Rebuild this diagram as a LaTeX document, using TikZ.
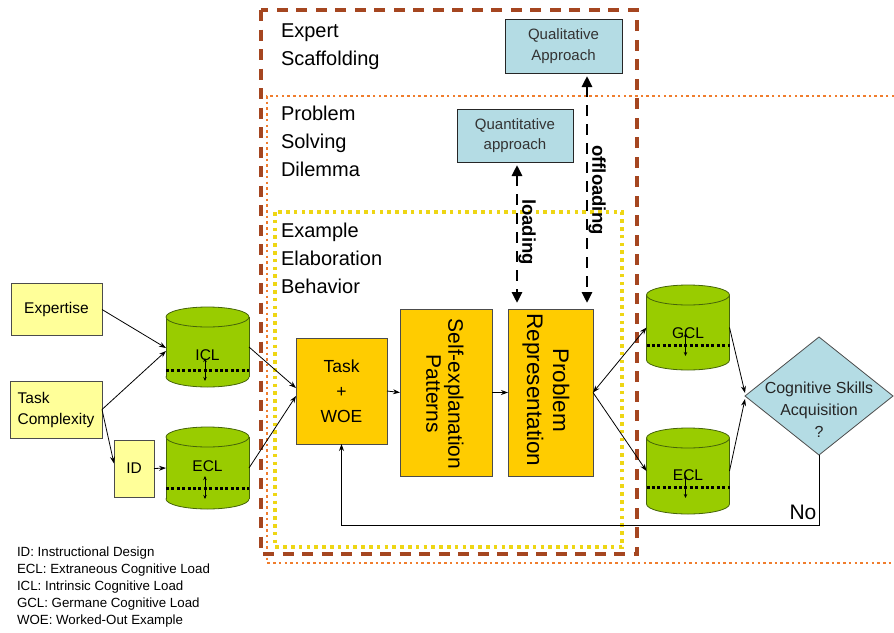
\documentclass[tikz,border=0pt]{standalone}
\usepackage{fontspec}
\setmainfont{Liberation Sans}
\usetikzlibrary{arrows.meta,shapes.geometric}
\definecolor{ylw}{RGB}{255,255,153}
\definecolor{gold}{RGB}{255,204,0}
\definecolor{grn}{RGB}{153,204,0}
\definecolor{grnd}{RGB}{70,100,10}
\definecolor{lblue}{RGB}{180,220,228}
\definecolor{brownf}{RGB}{165,70,32}
\definecolor{orangef}{RGB}{240,125,45}
\definecolor{yellowf}{RGB}{238,214,20}
\newcommand\fs[2]{\fontsize{#1}{#2}\selectfont}
\newcommand\mycyl[7]{%
  \pgfmathsetmacro\cylL{#2-41.5}%
  \pgfmathsetmacro\cylR{#2+41.5}%
  \pgfmathsetmacro\cylT{#3+10}%
  \pgfmathsetmacro\cylB{#4-10}%
  \pgfmathsetmacro\cylM{(#3+#4)/2}%
  \pgfmathsetmacro\cylH{#4-#3}%
  \pgfmathsetmacro\arT{#7-12}%
  \pgfmathsetmacro\arB{#7+11}%
  \pgfmathsetmacro\arX{#2-2.5}%
  \filldraw[cylfill] (#2,\cylB) ellipse [x radius=41.5, y radius=10];
  \fill[grn] (\cylL,\cylT) rectangle (\cylR,\cylB);
  \draw[cyledge] (\cylL,\cylT) -- (\cylL,\cylB) (\cylR,\cylT) -- (\cylR,\cylB);
  \filldraw[cylfill] (#2,\cylT) ellipse [x radius=41.5, y radius=10];
  \node[cyllabel] at (#2,#6) {#5};
  \draw[cyldot] (\cylL,#7) -- (\cylR,#7);
  \draw[cylarr] (\arX,\arT) -- (\arX,\arB);
  \node[minimum width=83pt, minimum height=\cylH pt] (#1) at (#2,\cylM) {};
}
\begin{document}
\begin{tikzpicture}[x=1pt,y=-1pt,
  every node/.style={inner sep=0pt, outer sep=0pt},
  ybox/.style={draw=black!70, line width=0.8pt, fill=ylw},
  gbox/.style={draw=black!70, line width=0.8pt, fill=gold},
  bbox/.style={draw=black!85, line width=0.9pt, fill=lblue, text=black!80},
  cylfill/.style={fill=grn, draw=grnd, line width=0.8pt},
  cyledge/.style={draw=grnd, line width=0.8pt},
  cyllabel/.style={font=\fs{15.5}{18}},
  cyldot/.style={line width=3pt, dash pattern=on 3pt off 2.4pt},
  cylarr/.style={line width=0.7pt, {Stealth[length=4pt,width=3.5pt]}-{Stealth[length=4pt,width=3.5pt]}},
  conn/.style={line width=0.8pt, -{Stealth[length=7pt,width=5pt]}},
  bconn/.style={line width=0.8pt, {Stealth[length=7pt,width=5pt]}-{Stealth[length=7pt,width=5pt]}},
  load/.style={line width=2.8pt, dash pattern=on 11pt off 8pt, {Triangle[length=11pt,width=10pt]}-{Triangle[length=11pt,width=10pt]}},
  title/.style={align=left, anchor=west, font=\fs{20}{28}},
  framebrown/.style={draw=brownf, line width=3.2pt, dash pattern=on 11pt off 8.5pt},
  frameorange/.style={draw=orangef, line width=2.5pt, dash pattern=on 2.5pt off 3.2pt},
  frameyellow/.style={draw=yellowf, line width=3.6pt, dash pattern=on 3.6pt off 4.2pt}
]
\useasboundingbox (0,0) rectangle (894,632);

% frames
\draw[frameorange] (894,96) -- (267,96) -- (267,563) -- (894,563);
\draw[framebrown] (261,10) rectangle (637,554);
\draw[frameyellow] (275,212) rectangle (622,547);

% titles
\node[title] (tes) at (281,46.5) {Expert\\Scaffolding};
\node[title] (tps) at (281,141) {Problem\\Solving\\Dilemma};
\node[title] (tee) at (281,258.5) {Example\\Elaboration\\Behavior};

% blue boxes
\node[bbox, minimum width=117pt, minimum height=54pt, align=center, font=\fs{15}{21}] (qual) at (563.5,46) {Qualitative\\Approach};
\node[bbox, minimum width=116pt, minimum height=53pt, align=center, font=\fs{15}{20}] (quant) at (515,135.5) {Quantitative\\approach};

% left boxes
\node[ybox, minimum width=91pt, minimum height=52pt, font=\fs{15.5}{19}] (expertise) at (56.5,309.5) {Expertise};
\node[ybox, minimum width=92pt, minimum height=57pt, align=left, font=\fs{15.5}{21}] (taskc) at (56,409.5) {Task\\Complexity};
\node[ybox, minimum width=40pt, minimum height=57pt, font=\fs{15.5}{19}] (id) at (134,468.5) {ID};

% cylinders
\mycyl{icl}{207.5}{307}{387}{ICL}{355}{370}
\mycyl{ecl}{207.5}{427}{509}{ECL}{466}{488}
\mycyl{gcl}{688}{285}{370}{GCL}{333}{345}
\mycyl{eclb}{688}{428}{514}{ECL}{475}{487}

% central boxes
\node[gbox, minimum width=91pt, minimum height=106pt, align=center, font=\fs{17.5}{25}] (task) at (341.5,391) {Task\\+\\WOE};
\node[gbox, minimum width=92pt, minimum height=167pt] (selfexp) at (446,392.5) {};
\node[rotate=-90, align=center, font=\fs{21}{22}] (selftxt) at (445,394) {Self-explanation\\Patterns};
\node[gbox, minimum width=85pt, minimum height=167pt] (prob) at (550.5,392.5) {};
\node[rotate=-90, align=center, font=\fs{22.5}{26}] (probtxt) at (546,390) {Problem\\Representation};

% decision
\node[diamond, draw=black!70, line width=0.8pt, fill=lblue, minimum width=148pt, minimum height=118pt] (dia) at (819,396) {};
\node[align=center, font=\fs{16}{22}, text=black!85] (diatxt) at (819,410) {Cognitive Skills\\Acquisition\\?};

% legend
\node[anchor=north west, align=left, font=\fs{13.3}{17}] (legend) at (17,547) {ID: Instructional Design\\ECL: Extraneous Cognitive Load\\ICL: Intrinsic Cognitive Load\\GCL: Germane Cognitive Load\\WOE: Worked-Out Example};

% connectors
\draw[conn] (expertise.east) -- ([yshift=-1pt]icl.west);
\draw[conn] (taskc.east) -- ([yshift=-4pt]icl.west);
\draw[conn] (taskc.east) -- ([yshift=5pt]id.west);
\draw[conn] (id.east) -- (ecl.west);
\draw[conn] (icl.east) -- ([yshift=3pt]task.west);
\draw[conn] (ecl.east) -- ([yshift=-5pt]task.west);
\draw[conn] (task.east) -- (selfexp.west);
\draw[conn] (selfexp.east) -- (prob.west);
\draw[bconn] (prob.east) -- (gcl.west);
\draw[conn] (prob.east) -- (eclb.west);
\draw[conn] (gcl.east) -- ([yshift=3pt]dia.west);
\draw[conn] (eclb.east) -- ([yshift=-3pt]dia.west);
\coordinate (fb) at (0,525);
\draw[conn] (dia.south) -- (dia.south |- fb) -| (task.south);
\node[font=\fs{21}{24}] (no) at (803,512.5) {No};

% loading / offloading
\coordinate (loadtop) at ([xshift=2pt,yshift=-3pt]quant.south);
\coordinate (loadbot) at ([yshift=6pt]loadtop |- prob.north);
\draw[load] (loadtop) -- (loadbot);
\coordinate (offtop) at ([xshift=23.5pt,yshift=-3pt]qual.south);
\coordinate (offbot) at ([yshift=6pt]offtop |- prob.north);
\draw[load] (offtop) -- (offbot);
\node[rotate=-90, font=\bfseries\fs{18.5}{20}] (loadtxt) at (527,232) {loading};
\node[rotate=-90, font=\bfseries\fs{18.5}{20}] (offtxt) at (597,190) {offloading};
\end{tikzpicture}
\end{document}
